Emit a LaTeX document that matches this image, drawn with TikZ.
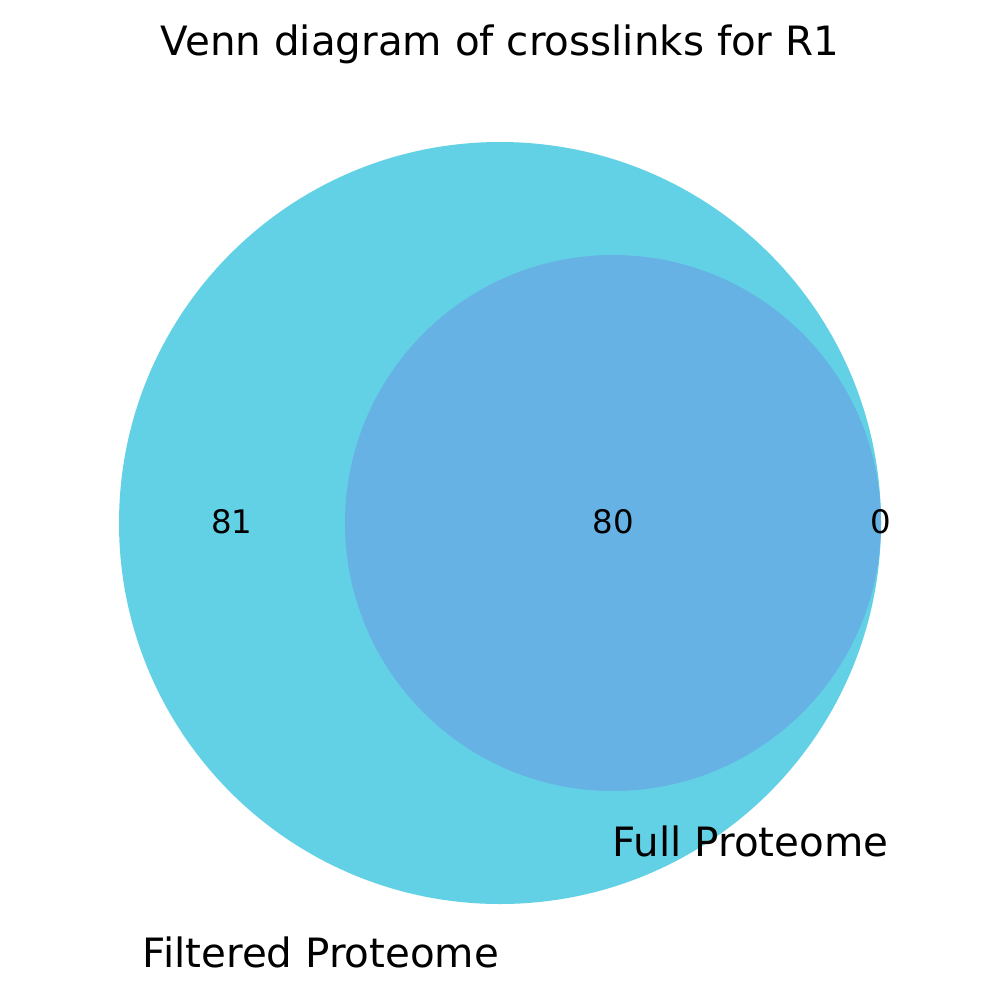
\documentclass[tikz,border=0pt]{standalone}
\usepackage{fontspec}
\setmainfont{DejaVu Sans}
\definecolor{bigc}{RGB}{99,209,229}
\definecolor{smallc}{RGB}{103,178,228}
\tikzset{
  lbl/.style={anchor=base, inner sep=0pt, font=\fontsize{20.2}{24}\selectfont},
  num/.style={anchor=base, inner sep=0pt, font=\fontsize{16.2}{19}\selectfont},
}
\begin{document}
\begin{tikzpicture}[x=0.5pt,y=-0.5pt]
\useasboundingbox[fill=white] (0,0) rectangle (1000,1000);
\fill[bigc] (500,523) circle[radius=381];
\fill[smallc] (613,523) circle[radius=268];
\node[lbl] (title) at (500,56) {Venn diagram of crosslinks for R1};
\node[num] (n81) at (232,533) {81};
\node[num] (n80) at (613,533) {80};
\node[num] (n0) at (881,533) {0};
\node[lbl] (full) at (750.5,856) {Full Proteome};
\node[lbl] (filt) at (321,967) {Filtered Proteome};
\end{tikzpicture}
\end{document}
